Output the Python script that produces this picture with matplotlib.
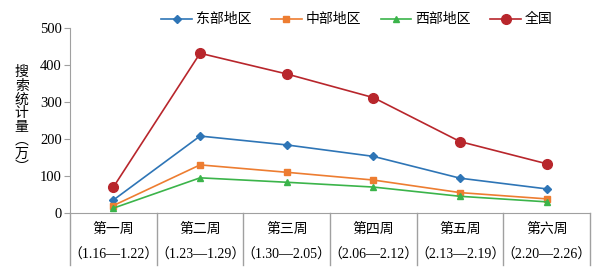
import matplotlib.pyplot as plt
import matplotlib.transforms as mtransforms
import numpy as np

plt.rcParams['font.family'] = ['Liberation Serif', 'Noto Sans CJK SC']

weeks = ['第一周', '第二周', '第三周', '第四周', '第五周', '第六周']
dates = ['（1.16—1.22）', '（1.23—1.29）', '（1.30—2.05）',
         '（2.06—2.12）', '（2.13—2.19）', '（2.20—2.26）']
east = [35, 208, 184, 153, 94, 65]
central = [20, 130, 110, 89, 55, 38]
west = [13, 95, 83, 70, 45, 30]
national = [70, 432, 376, 312, 193, 133]

fig = plt.figure(figsize=(6.04, 2.73), dpi=100)
ax = fig.add_axes([0.116, 0.22, 0.861, 0.677])

x = np.arange(len(weeks))
ax.plot(x, east, '-D', color='#2E75B6', lw=1.2, ms=4.5, label='东部地区')
ax.plot(x, central, '-s', color='#ED7D31', lw=1.2, ms=5, label='中部地区')
ax.plot(x, west, '-^', color='#3BB44A', lw=1.2, ms=5, label='西部地区')
ax.plot(x, national, '-o', color='#B8262C', lw=1.2, ms=7, label='全国')

ax.set_xlim(-0.5, len(weeks) - 0.5)
ax.set_ylim(0, 500)
ax.set_yticks([0, 100, 200, 300, 400, 500])
ax.set_xticks([])
ax.tick_params(axis='y', direction='out', length=4, color='#a0a0a0', labelsize=10.5, pad=2)

gray = '#a0a0a0'
for s in ['top', 'right']:
    ax.spines[s].set_visible(False)
ax.spines['left'].set_color(gray)
ax.spines['bottom'].set_color(gray)
ax.spines['left'].set_bounds(0, 500)

trans = mtransforms.blended_transform_factory(ax.transData, ax.transAxes)
for b in np.arange(-0.5, len(weeks)):
    ax.plot([b, b], [0, -0.28], transform=trans, color=gray, lw=1, clip_on=False)
for i in range(len(weeks)):
    ax.text(i, -0.09, weeks[i], transform=trans, ha='center', va='center', fontsize=10)
    ax.text(i, -0.23, dates[i], transform=trans, ha='center', va='center', fontsize=10)

fig.text(0.036, 0.56, '\n'.join('搜索统计量') + '\n︵\n万\n︶', ha='center', va='center',
         fontsize=10, linespacing=1.05)

ax.legend(loc='center', bbox_to_anchor=(0.552, 1.045), ncol=4, frameon=False,
          fontsize=10, handlelength=2.2, columnspacing=1.4, handletextpad=0.3,
          borderaxespad=0, borderpad=0)

fig.savefig('out.png', dpi=100)
